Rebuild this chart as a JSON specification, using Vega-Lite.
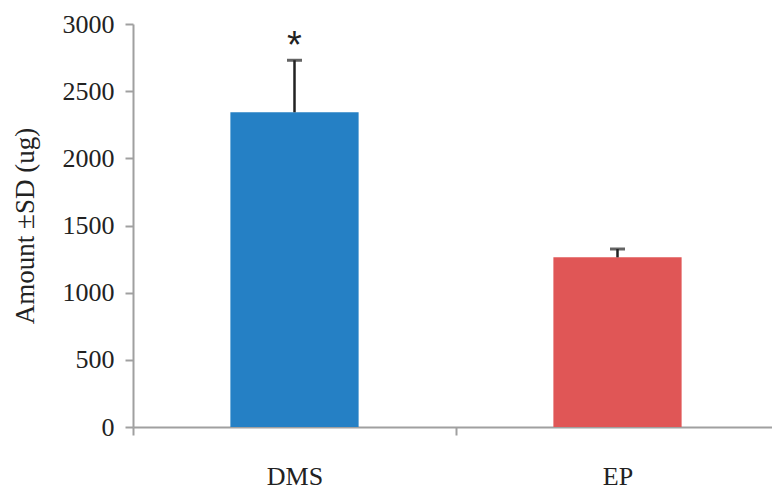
{
  "$schema": "https://vega.github.io/schema/vega-lite/v6.json",
  "width": 639,
  "height": 403,
  "autosize": {"type": "none"},
  "padding": {"left": 133, "top": 24, "right": 0, "bottom": 64},
  "background": "white",
  "config": {
    "view": {"stroke": null},
    "font": "Liberation Serif"
  },
  "data": {
    "values": [
      {"group": "DMS", "amount": 2343, "sd": 387, "sig": "*"},
      {"group": "EP", "amount": 1263, "sd": 62, "sig": ""}
    ]
  },
  "transform": [{"calculate": "datum.amount + datum.sd", "as": "upper"}],
  "encoding": {
    "x": {
      "field": "group",
      "type": "nominal",
      "sort": ["DMS", "EP"],
      "scale": {"range": [0, 646], "paddingInner": 0, "paddingOuter": 0},
      "axis": {
        "title": null,
        "labelAngle": 0,
        "labelFont": "Liberation Serif",
        "labelFontSize": 26,
        "labelColor": "#222",
        "labelPadding": 28,
        "tickBand": "extent",
        "tickSize": 8,
        "tickColor": "#a0a0a0",
        "tickWidth": 2,
        "domainColor": "#a0a0a0",
        "domainWidth": 2
      }
    }
  },
  "layer": [
    {
      "mark": {"type": "bar", "width": {"band": 0.397}},
      "encoding": {
        "y": {
          "field": "amount",
          "type": "quantitative",
          "scale": {"domain": [0, 3000], "nice": false},
          "axis": {
            "title": "Amount ±SD (ug)",
            "titleFont": "Liberation Serif",
            "titleFontSize": 27,
            "titleFontWeight": "normal",
            "titleColor": "#222",
            "titlePadding": 23,
            "format": "d",
            "values": [0, 500, 1000, 1500, 2000, 2500, 3000],
            "labelFont": "Liberation Serif",
            "labelFontSize": 26,
            "labelColor": "#222",
            "labelPadding": 11,
            "tickSize": 8,
            "tickColor": "#a0a0a0",
            "tickWidth": 2,
            "domainColor": "#a0a0a0",
            "domainWidth": 2,
            "grid": false
          }
        },
        "color": {
          "field": "group",
          "type": "nominal",
          "scale": {"domain": ["DMS", "EP"], "range": ["#2580C5", "#E05656"]},
          "legend": null
        }
      }
    },
    {
      "mark": {"type": "rule", "color": "#222", "strokeWidth": 2.5},
      "encoding": {
        "y": {"field": "amount", "type": "quantitative"},
        "y2": {"field": "upper"}
      }
    },
    {
      "mark": {"type": "tick", "color": "#222", "thickness": 3, "size": 15, "orient": "horizontal"},
      "encoding": {
        "y": {"field": "upper", "type": "quantitative"}
      }
    },
    {
      "mark": {"type": "text", "fontSize": 38, "font": "Liberation Sans", "color": "#222", "baseline": "bottom", "dy": 6},
      "encoding": {
        "y": {"field": "upper", "type": "quantitative"},
        "text": {"field": "sig"}
      }
    }
  ]
}
